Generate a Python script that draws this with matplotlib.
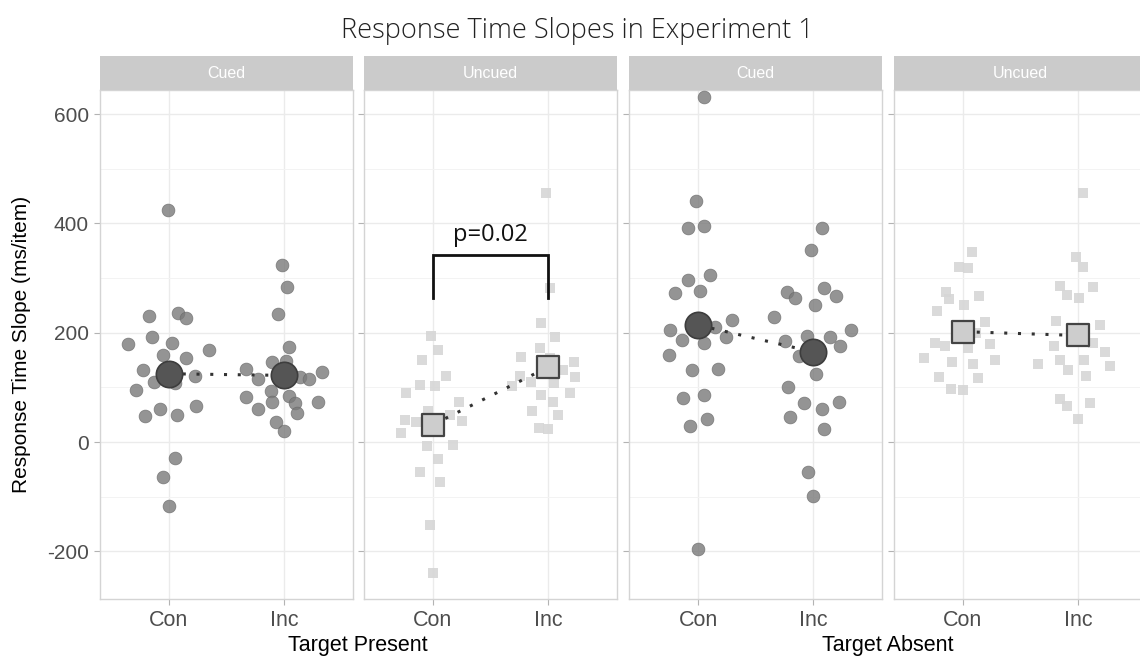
import matplotlib
matplotlib.use("Agg")
import matplotlib.pyplot as plt
import numpy as np

# Response time slopes, Experiment 1
# Panels: (Target Present, Cued), (Target Present, Uncued),
#         (Target Absent, Cued), (Target Absent, Uncued)

categories = ["Con", "Inc"]
stripLabels = ["Cued", "Uncued", "Cued", "Uncued"]
groupLabels = ["Target Present", "Target Absent"]

# ----- Panel 1: present / cued
p1Con = [424, 231, 237, 227, 180, 193, 182, 159, 154, 168, 131, 121, 109, 108,
         96, 60, 48, 49, 66, -29, -64, -117]
p1ConJit = [-0.01, -0.17, 0.075, 0.15, -0.36, -0.145, 0.026, -0.05, 0.145, 0.345,
            -0.226, 0.226, -0.133, 0.05, -0.285, -0.078, -0.206, 0.072, 0.232,
            0.05, -0.05, 0.0]
p1Inc = [323, 284, 235, 174, 146, 148, 134, 115, 119, 115, 129, 94, 83, 74, 85,
         71, 74, 61, 54, 36, 21]
p1IncJit = [-0.015, 0.023, -0.05, 0.043, -0.107, 0.017, -0.33, -0.226, 0.139, 0.22,
            0.33, -0.11, -0.33, -0.104, 0.043, 0.1, 0.3, -0.226, 0.113, -0.07, 0.0]

# ----- Panel 2: present / uncued
p2Con = [194, 169, 150, 121, 105, 102, 89, 74, 56, 49, 38, 41, 37, 16, -8, -6,
         -31, -55, -73, -152, -239]
p2ConJit = [-0.017, 0.043, -0.1, 0.115, -0.11, 0.02, -0.236, 0.23, -0.04, 0.144,
            0.253, -0.247, -0.15, -0.28, -0.05, 0.17, 0.043, -0.11, 0.057, -0.03, 0.0]
p2Inc = [456, 281, 218, 193, 172, 155, 153, 146, 131, 119, 120, 110, 102, 108,
         89, 86, 74, 56, 50, 26, 24]
p2IncJit = [-0.014, 0.02, -0.057, 0.057, -0.07, -0.236, 0.017, 0.23, 0.13, 0.236,
            -0.247, -0.15, -0.31, 0.055, 0.19, -0.063, 0.043, -0.135, 0.083, -0.08, 0.0]

# ----- Panel 3: absent / cued
p3Con = [631, 441, 392, 395, 297, 306, 273, 277, 205, 187, 210, 224, 192, 182,
         159, 131, 134, 81, 86, 43, 30, -195]
p3ConJit = [0.05, -0.014, -0.09, 0.05, -0.09, 0.106, -0.2, 0.014, -0.245, -0.14,
            0.15, 0.296, 0.247, 0.05, -0.253, -0.05, 0.17, -0.13, 0.05, 0.078,
            -0.066, 0.0]
p3Inc = [391, 351, 275, 263, 281, 267, 250, 228, 194, 193, 175, 184, 157, 125,
         100, 71, 61, 73, 45, 24, -54, -99, 205]
p3IncJit = [0.078, -0.02, -0.23, -0.16, 0.095, 0.2, 0.02, -0.34, -0.05, 0.147,
            0.233, -0.24, -0.124, 0.026, -0.22, -0.08, 0.078, 0.227, -0.204, 0.092,
            -0.046, 0.0, 0.33]

# ----- Panel 4: absent / uncued
p4Con = [348, 320, 318, 275, 261, 267, 240, 251, 220, 199, 181, 176, 172, 179,
         153, 146, 142, 151, 119, 117, 98, 96]
p4ConJit = [0.08, -0.035, 0.044, -0.15, -0.125, 0.137, -0.23, 0.012, 0.195, 0.11,
            -0.24, -0.154, 0.044, 0.235, -0.337, -0.093, 0.084, 0.276, -0.212,
            0.128, -0.105, 0.0]
p4Inc = [456, 338, 320, 286, 269, 264, 283, 222, 215, 175, 182, 165, 143, 151,
         132, 151, 140, 121, 79, 66, 71, 43]
p4IncJit = [0.047, -0.02, 0.047, -0.154, -0.1, 0.012, 0.13, -0.19, 0.195, -0.212,
            0.13, 0.235, -0.346, -0.154, -0.087, 0.05, 0.28, 0.07, -0.154, -0.1,
            0.105, 0.0]

# condition means (Con, Inc) per panel
means = [[125, 122], [32, 137], [214, 165], [202, 195]]
cuedPanel = [True, False, True, False]

pValueText = "p=0.02"
bracketTop = 342
bracketBottom = 264
yTicks = [-200, 0, 200, 400, 600]


def styleAxis(ax, showY):
    ax.set_xlim(0.4, 2.6)
    ax.set_ylim(-287, 644)
    ax.set_xticks([1, 2])
    ax.set_xticklabels(categories, fontsize=15.5, color="#4d4d4d",
                       family="Liberation Sans")
    ax.set_yticks(yTicks)
    ax.set_yticks([-100, 100, 300, 500], minor=True)
    if showY:
        ax.set_yticklabels([str(t) for t in yTicks], fontsize=15,
                           color="#4d4d4d", family="Liberation Sans")
    else:
        ax.tick_params(axis="y", which="both", length=0, labelleft=False)
    ax.tick_params(axis="both", which="major", length=4, width=0.8,
                   color="#b3b3b3", pad=4)
    ax.tick_params(axis="y", which="minor", length=0)
    ax.grid(True, which="major", color="#ebebeb", linewidth=1.0, zorder=0)
    ax.grid(True, which="minor", axis="y", color="#f3f3f3", linewidth=0.7,
            zorder=0)
    ax.set_axisbelow(True)
    for sp in ax.spines.values():
        sp.set_color("#d4d4d4")
        sp.set_linewidth(1.0)


def drawPanel(ax, conVals, conJit, incVals, incJit, mean, cued):
    xc = 1 + np.array(conJit)
    xi = 2 + np.array(incJit)
    if cued:
        kw = dict(marker="o", s=85, color="#7a7a7a", alpha=0.8,
                  edgecolors="#6a6a6a", linewidths=0.5, zorder=3)
        mkw = dict(marker="o", s=360, facecolor="#555555",
                   edgecolors="#3d3d3d", linewidths=1.2, zorder=5)
    else:
        kw = dict(marker="s", s=50, color="#d6d6d6", alpha=0.9,
                  linewidths=0, zorder=3)
        mkw = dict(marker="s", s=260, facecolor="#cdcdcd",
                   edgecolors="#444444", linewidths=1.6, zorder=5)
    ax.scatter(xc, conVals, **kw)
    ax.scatter(xi, incVals, **kw)
    ax.plot([1, 2], mean, color="#333333", linestyle=(0, (1, 3.5)),
            linewidth=2.2, zorder=4)
    ax.scatter([1, 2], mean, **mkw)


def main():
    fig = plt.figure(figsize=(11.4, 6.58), dpi=100)
    W, H = 1140.0, 658.0
    lefts = [100, 364, 629, 894]
    pw = 253
    top, bottom = 90, 599
    stripTop = 56

    data = [(p1Con, p1ConJit, p1Inc, p1IncJit),
            (p2Con, p2ConJit, p2Inc, p2IncJit),
            (p3Con, p3ConJit, p3Inc, p3IncJit),
            (p4Con, p4ConJit, p4Inc, p4IncJit)]

    axes = []
    for i, left in enumerate(lefts):
        ax = fig.add_axes([left / W, 1 - bottom / H, pw / W, (bottom - top) / H])
        styleAxis(ax, i == 0)
        con, conJ, inc, incJ = data[i]
        drawPanel(ax, con, conJ, inc, incJ, means[i], cuedPanel[i])
        axes.append(ax)

        # strip on top of each panel
        sax = fig.add_axes([left / W, 1 - top / H, pw / W, (top - stripTop) / H])
        sax.set_facecolor("#cbcbcb")
        sax.set_xticks([])
        sax.set_yticks([])
        for sp in sax.spines.values():
            sp.set_visible(False)
        sax.text(0.5, 0.5, stripLabels[i], color="white", fontsize=11.5,
                 ha="center", va="center", family="Liberation Sans",
                 transform=sax.transAxes)

    # significance bracket on the present/uncued panel
    ax2 = axes[1]
    ax2.plot([1, 1, 2, 2], [bracketBottom, bracketTop, bracketTop, bracketBottom],
             color="#111111", linewidth=2.0, zorder=6, solid_joinstyle="miter")
    ax2.text(1.5, bracketTop + 14, pValueText, ha="center", va="bottom",
             fontsize=17, color="#111111", family="Open Sans", zorder=6)

    # labels
    fig.text(577 / W, 1 - 31 / H, "Response Time Slopes in Experiment 1",
             ha="center", va="center", fontsize=19.5, color="#222222",
             family="Open Sans", fontweight="light")
    fig.text(22 / W, 1 - 344 / H, "Response Time Slope (ms/item)",
             rotation=90, ha="center", va="center", fontsize=15,
             color="black", family="Liberation Sans")
    fig.text(358 / W, 1 - 645 / H, groupLabels[0], ha="center", va="center",
             fontsize=15.5, color="black", family="Liberation Sans")
    fig.text(888 / W, 1 - 645 / H, groupLabels[1], ha="center", va="center",
             fontsize=15.5, color="black", family="Liberation Sans")

    fig.savefig("out.png", dpi=100, facecolor="white")


if __name__ == "__main__":
    main()
